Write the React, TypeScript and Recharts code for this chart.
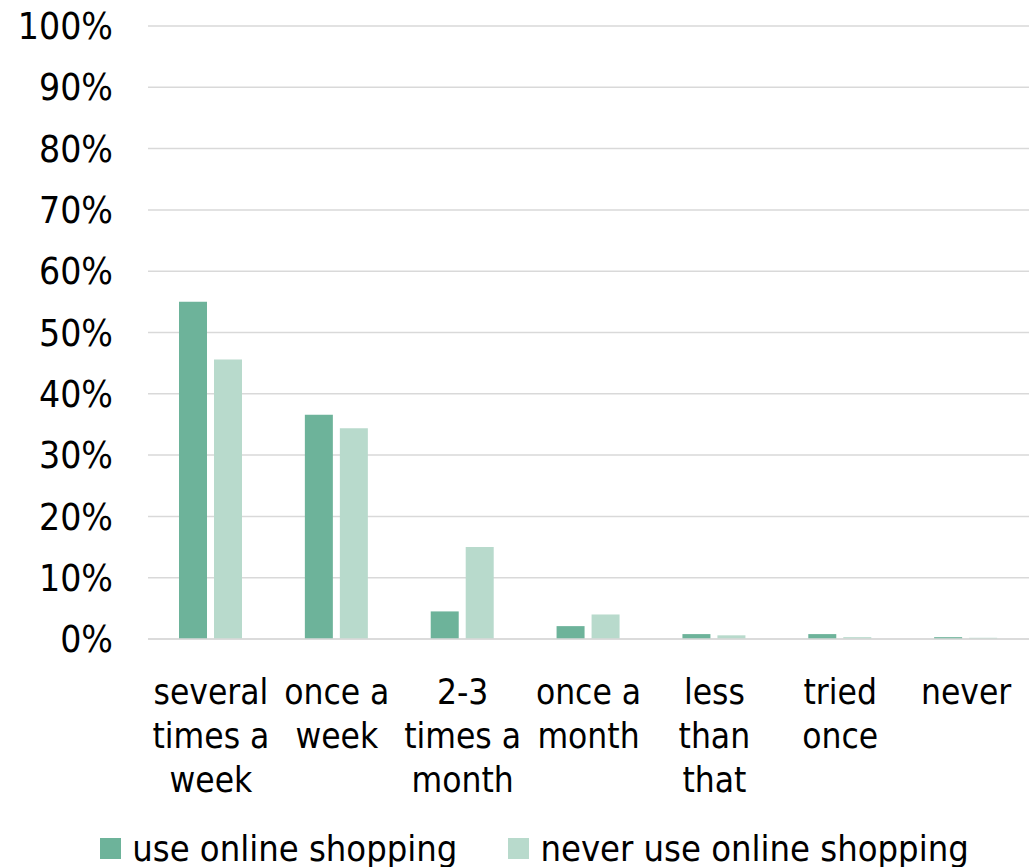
import { BarChart, Bar, XAxis, YAxis, CartesianGrid, Legend } from 'recharts';

const categories = [
  'several times a week',
  'once a week',
  '2-3 times a month',
  'once a month',
  'less than that',
  'tried once',
  'never',
];

// how each category label is broken over lines under the axis
const categoryLines: Record<string, string[]> = {
  'several times a week': ['several', 'times a', 'week'],
  'once a week': ['once a', 'week'],
  '2-3 times a month': ['2-3', 'times a', 'month'],
  'once a month': ['once a', 'month'],
  'less than that': ['less', 'than', 'that'],
  'tried once': ['tried', 'once'],
  'never': ['never'],
};

const useOnline = [0.55, 0.366, 0.045, 0.021, 0.008, 0.008, 0.003];
const neverOnline = [0.456, 0.344, 0.15, 0.04, 0.006, 0.003, 0.002];

const yTicks = [0, 0.1, 0.2, 0.3, 0.4, 0.5, 0.6, 0.7, 0.8, 0.9, 1];

const DARK = '#6db39a';
const LIGHT = '#b8dacc';
const FONT = "'DejaVu Sans Condensed', 'DejaVu Sans', sans-serif";

const data = categories.map((name, i) => ({
  name,
  use: useOnline[i],
  never: neverOnline[i],
}));

const CategoryTick = ({ x, y, payload }: any) => {
  const lines = categoryLines[payload.value] || [payload.value];
  return (
    <text x={x} y={y} textAnchor="middle" fill="#000" fontSize={35} fontFamily={FONT}>
      {lines.map((line, i) => (
        <tspan key={i} x={x} dy={i === 0 ? 63 : 44}>
          {line}
        </tspan>
      ))}
    </text>
  );
};

const LegendContent = () => (
  <div
    style={{
      display: 'flex',
      justifyContent: 'center',
      alignItems: 'center',
      gap: 51,
      height: 60,
      paddingLeft: 40,
      transform: 'translateY(11px)',
      fontFamily: FONT,
      fontSize: 36,
      color: '#000',
    }}
  >
    {[
      { label: 'use online shopping', color: DARK },
      { label: 'never use online shopping', color: LIGHT },
    ].map((item) => (
      <div key={item.label} style={{ display: 'flex', alignItems: 'center' }}>
        <span style={{ width: 21, height: 21, background: item.color, marginRight: 11, display: 'inline-block' }} />
        <span>{item.label}</span>
      </div>
    ))}
  </div>
);

export default function App() {
  return (
    <div style={{ position: 'absolute', left: 0, top: 0, background: '#fff' }}>
      <BarChart
        width={1034}
        height={867}
        data={data}
        margin={{ top: 26, right: 5, left: 0, bottom: 0 }}
        barSize={28}
        barGap={7}
      >
        <CartesianGrid vertical={false} stroke="#d9d9d9" strokeWidth={1.5} />
        <XAxis
          dataKey="name"
          height={168}
          interval={0}
          tickLine={false}
          tickSize={0}
          axisLine={{ stroke: '#d9d9d9', strokeWidth: 1.5 }}
          tick={<CategoryTick />}
        />
        <YAxis
          width={148}
          domain={[0, 1]}
          ticks={yTicks}
          axisLine={false}
          tickLine={false}
          tickSize={0}
          tickMargin={35}
          tickFormatter={(v: number) => `${Math.round(v * 100)}%`}
          tick={{ fill: '#000', fontSize: 37, fontFamily: FONT }}
        />
        <Legend verticalAlign="bottom" height={60} content={<LegendContent />} />
        <Bar dataKey="use" name="use online shopping" fill={DARK} isAnimationActive={false} />
        <Bar dataKey="never" name="never use online shopping" fill={LIGHT} isAnimationActive={false} />
      </BarChart>
    </div>
  );
}
